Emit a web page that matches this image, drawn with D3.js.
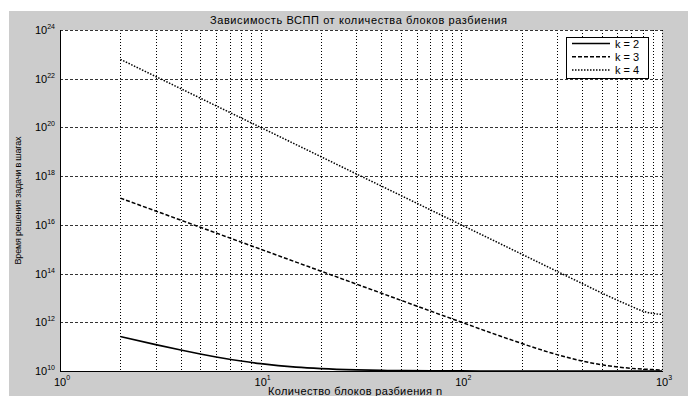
<!DOCTYPE html>
<html>
<head>
<meta charset="utf-8">
<script src="https://cdn.jsdelivr.net/npm/d3@7"></script>
<style>
  body { margin: 0; background: #fff; }
  svg { display: block; }
  text { font-family: "Liberation Sans", Arial, sans-serif; fill: #000; }
</style>
</head>
<body>
<div id="chart"></div>
<script>
'use strict';

// values (n = number of blocks)
var nValues = [2, 3, 4, 5, 6, 8, 10, 15, 20, 30, 40, 50, 70, 100, 150, 200, 300, 400, 500, 700, 800, 900, 1000];
var k2 = [2.6e11, 1.21e11, 7.25e10, 5e10, 3.78e10, 2.56e10, 2e10, 1.44e10, 1.25e10, 1.11e10, 1.06e10, 1.04e10, 1.02e10, 1.01e10,
          1e10, 1e10, 1e10, 1e10, 1e10, 1e10, 1e10, 1e10, 1e10];
var k3 = [1.25e17, 3.7e16, 1.56e16, 8e15, 4.63e15, 1.95e15, 1e15, 2.96e14, 1.25e14, 3.7e13, 1.56e13, 8e12, 2.92e12, 1.01e12,
          3.06e11, 1.35e11, 4.7e10, 2.56e10, 1.8e10, 1.29e10, 1.2e10, 1.14e10, 1.1e10];
var k4 = [6.25e22, 1.23e22, 3.9e21, 1.6e21, 7.7e20, 2.44e20, 1e20, 1.98e19, 6.25e18, 1.23e18, 3.9e17, 1.6e17, 4.16e16, 1e16,
          1.98e15, 6.25e14, 1.23e14, 3.9e13, 1.6e13, 4.6e12, 2.9e12, 2.3e12, 2.1e12];

var seriesNames = ['k = 2', 'k = 3', 'k = 4'];
var seriesDash = ['none', '4,2', '1.5,1.5'];

var xExp = [0, 1, 2, 3];
var yExp = [10, 12, 14, 16, 18, 20, 22, 24];

var titleText = 'Зависимость ВСПП от количества блоков разбиения';
var xLabelText = 'Количество блоков разбиения n';
var yLabelText = 'Время решения задачи в шагах';

var W = 688, H = 396;
var plot = { l: 60, r: 662, t: 30, b: 371 };

var svg = d3.select('#chart').append('svg')
    .attr('width', W)
    .attr('height', H);

// figure background
svg.append('rect').attr('width', W).attr('height', H).attr('fill', '#fff');
svg.append('rect')
    .attr('x', 9).attr('y', 11)
    .attr('width', W - 9).attr('height', H - 11)
    .attr('fill', '#cccccc');

var x = d3.scaleLog().domain([1, 1000]).range([plot.l, plot.r]);
var y = d3.scaleLog().domain([1e10, 1e24]).range([plot.b, plot.t]);

// snap 1px lines to pixel centres so they stay dark
function px(v) { return Math.round(v) + 0.5; }

svg.append('rect')
    .attr('x', plot.l).attr('y', plot.t)
    .attr('width', plot.r - plot.l).attr('height', plot.b - plot.t)
    .attr('fill', '#fff');

// grid: vertical at 1..9 x 10^k, horizontal at every second decade
var xGrid = [];
xExp.forEach(function(e) {
  for (var m = 1; m <= 9; m++) {
    var v = m * Math.pow(10, e);
    if (v <= 1000) xGrid.push(v);
  }
});
var g = svg.append('g');
g.selectAll('line.vg').data(xGrid.filter(function(v) { return v > 1; }))
  .enter().append('line')
    .attr('class', 'vg')
    .attr('x1', function(d) { return px(x(d)); })
    .attr('x2', function(d) { return px(x(d)); })
    .attr('y1', plot.t).attr('y2', plot.b)
    .attr('stroke', '#000')
    .attr('stroke-width', 1)
    .attr('stroke-dasharray', '1,2');

g.selectAll('line.hg').data(yExp.filter(function(e) { return e > 10; }))
  .enter().append('line')
    .attr('class', 'hg')
    .attr('x1', plot.l).attr('x2', plot.r)
    .attr('y1', function(d) { return px(y(Math.pow(10, d))); })
    .attr('y2', function(d) { return px(y(Math.pow(10, d))); })
    .attr('stroke', '#333')
    .attr('stroke-width', 1)
    .attr('stroke-dasharray', '3,2');

// curves
svg.append('clipPath').attr('id', 'clip')
  .append('rect')
    .attr('x', plot.l).attr('y', plot.t - 1)
    .attr('width', plot.r - plot.l + 1).attr('height', plot.b - plot.t + 1);

var line = d3.line()
    .x(function(d) { return x(d[0]); })
    .y(function(d) { return y(d[1]); })
    .curve(d3.curveMonotoneX);

var series = [k2, k3, k4];
svg.append('g').attr('clip-path', 'url(#clip)')
  .selectAll('path').data(series)
  .enter().append('path')
    .attr('d', function(s) { return line(nValues.map(function(n, i) { return [n, s[i]]; })); })
    .attr('fill', 'none')
    .attr('stroke', '#000')
    .attr('stroke-width', function(s, i) { return i === 0 ? 1.6 : 1.5; })
    .attr('stroke-dasharray', function(s, i) { return seriesDash[i]; });

// axis lines (left and bottom only)
svg.append('line')
    .attr('x1', plot.l + 0.5).attr('x2', plot.l + 0.5)
    .attr('y1', plot.t).attr('y2', plot.b + 0.5)
    .attr('stroke', '#000');
svg.append('line')
    .attr('x1', plot.l).attr('x2', plot.r + 1)
    .attr('y1', plot.b + 0.5).attr('y2', plot.b + 0.5)
    .attr('stroke', '#000');

// tick labels
var yl = svg.append('g').selectAll('text').data(yExp)
  .enter().append('text')
    .attr('x', 55)
    .attr('y', function(d) { return y(Math.pow(10, d)) + 4; })
    .attr('text-anchor', 'end')
    .style('font-size', '11px');
yl.append('tspan').text('10');
yl.append('tspan').attr('dy', -5).style('font-size', '7px').text(function(d) { return d; });

var xl = svg.append('g').selectAll('text').data(xExp)
  .enter().append('text')
    .attr('x', function(d) { return x(Math.pow(10, d)) + 2; })
    .attr('y', 386)
    .attr('text-anchor', 'middle')
    .style('font-size', '11px');
xl.append('tspan').text('10');
xl.append('tspan').attr('dy', -6).style('font-size', '7px').text(function(d) { return d; });

// title and axis labels
svg.append('text')
    .attr('x', 358.5).attr('y', 24)
    .attr('text-anchor', 'middle')
    .attr('textLength', 297)
    .attr('lengthAdjust', 'spacing')
    .style('font-size', '11px')
    .text(titleText);

svg.append('text')
    .attr('x', 355).attr('y', 395)
    .attr('text-anchor', 'middle')
    .attr('textLength', 174)
    .attr('lengthAdjust', 'spacing')
    .style('font-size', '11px')
    .text(xLabelText);

svg.append('text')
    .attr('transform', 'translate(21,' + ((plot.t + plot.b) / 2) + ') rotate(-90)')
    .attr('text-anchor', 'middle')
    .attr('textLength', 128)
    .attr('lengthAdjust', 'spacing')
    .style('font-size', '9px')
    .text(yLabelText);

// legend
var leg = svg.append('g').attr('transform', 'translate(566,37)');
leg.append('rect')
    .attr('x', 0.5).attr('y', 0.5)
    .attr('width', 82).attr('height', 41)
    .attr('fill', '#fff')
    .attr('stroke', '#000');
var items = leg.selectAll('g.item').data(seriesNames)
  .enter().append('g')
    .attr('class', 'item')
    .attr('transform', function(d, i) { return 'translate(0,' + (6.5 + i * 13.3) + ')'; });
items.append('line')
    .attr('x1', 6).attr('x2', 44)
    .attr('y1', 0).attr('y2', 0)
    .attr('stroke', '#000')
    .attr('stroke-width', function(d, i) { return i === 0 ? 1.6 : 1.5; })
    .attr('stroke-dasharray', function(d, i) { return seriesDash[i]; });
items.append('text')
    .attr('x', 49).attr('y', 4)
    .style('font-size', '11px')
    .text(function(d) { return d; });
</script>
</body>
</html>
